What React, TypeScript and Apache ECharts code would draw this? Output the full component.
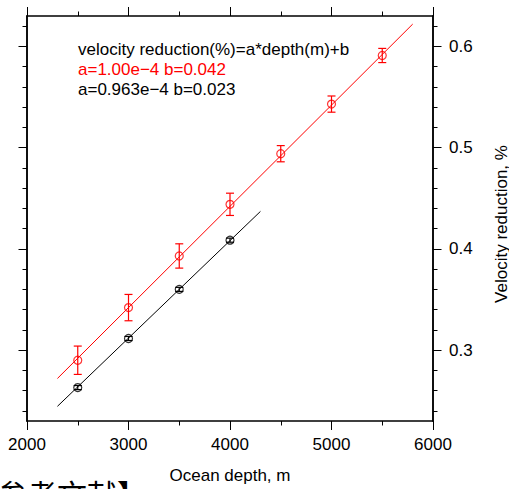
import React, { useEffect, useRef } from "react";
import * as echarts from "echarts";

const depths = [2500, 3000, 3500, 4000, 4500, 5000, 5500];
const redValues = [0.29, 0.342, 0.393, 0.444, 0.494, 0.543, 0.591];
const redErrors = [0.014, 0.013, 0.012, 0.011, 0.008, 0.008, 0.007];

const blackDepths = [2500, 3000, 3500, 4000];
const blackValues = [0.263, 0.3115, 0.36, 0.4086];
const blackErrors = [0.002, 0.002, 0.002, 0.002];

const redFitX = [2300, 5800];
const redFitY = [0.272, 0.622];
const blackFitX = [2300, 4300];
const blackFitY = [0.2445, 0.437];

const yMajorTicks = [0.3, 0.4, 0.5, 0.6];
const yMinorTicks = [0.24, 0.26, 0.28, 0.32, 0.34, 0.36, 0.38, 0.42, 0.44, 0.46, 0.48, 0.52, 0.54, 0.56, 0.58, 0.62];

const legendLines = [
  "velocity reduction(%)=a*depth(m)+b",
  "a=1.00e\u22124 b=0.042",
  "a=0.963e\u22124 b=0.023",
];

const FONT = "Liberation Sans, Arial, Helvetica, sans-serif";
const RED = "#ff0000";

export default function App() {
  const ref = useRef<HTMLDivElement>(null);
  useEffect(() => {
    if (!ref.current) return;
    const chart = echarts.init(ref.current, undefined, { renderer: "svg" });

    const errBar = (color: string) => (params: any, api: any) => {
      const x = api.value(0);
      const lo = api.coord([x, api.value(1)]);
      const hi = api.coord([x, api.value(2)]);
      const w = 4;
      const style = { stroke: color, lineWidth: 1.2 };
      return {
        type: "group",
        children: [
          { type: "line", shape: { x1: lo[0], y1: lo[1], x2: hi[0], y2: hi[1] }, style },
          { type: "line", shape: { x1: lo[0] - w, y1: lo[1], x2: lo[0] + w, y2: lo[1] }, style },
          { type: "line", shape: { x1: hi[0] - w, y1: hi[1], x2: hi[0] + w, y2: hi[1] }, style },
        ],
      };
    };

    const axisLine = { show: true, onZero: false, lineStyle: { color: "#000", width: 1.5 } };
    const xBase = {
      type: "value",
      min: 2000,
      max: 6000,
      interval: 1000,
      axisLine,
      axisTick: { show: true, inside: false, length: 9, lineStyle: { color: "#000", width: 1 } },
      minorTick: { show: true, splitNumber: 2, length: 4.5, lineStyle: { color: "#000", width: 1 } },
      splitLine: { show: false },
      minorSplitLine: { show: false },
    };
    const yBase = (position: string, ticks: number[], len: number, labels: boolean) => ({
      type: "value",
      position,
      min: 0.23,
      max: 0.63,
      axisLine,
      axisTick: { show: true, inside: false, length: len, customValues: ticks, lineStyle: { color: "#000", width: 1 } },
      axisLabel: labels
        ? { show: true, customValues: yMajorTicks, color: "#000", fontSize: 17, fontFamily: FONT, margin: 16, formatter: (v: number) => v.toFixed(1) }
        : { show: false },
      splitLine: { show: false },
    });

    chart.setOption({
      animation: false,
      backgroundColor: "#fff",
      grid: { left: 27, right: 76, top: 16, bottom: 66, containLabel: false },
      xAxis: [
        {
          ...xBase,
          position: "bottom",
          axisLabel: { show: true, color: "#000", fontSize: 17, fontFamily: FONT, margin: 15, formatter: (v: number) => String(v) },
          name: "Ocean depth, m",
          nameLocation: "middle",
          nameGap: 46,
          nameTextStyle: { color: "#000", fontSize: 17, fontFamily: FONT },
        },
        { ...xBase, position: "top", axisLabel: { show: false } },
      ],
      yAxis: [
        yBase("right", yMajorTicks, 8.5, true),
        yBase("right", yMinorTicks, 4.5, false),
        yBase("left", yMajorTicks, 8.5, false),
        yBase("left", yMinorTicks, 4.5, false),
      ],
      graphic: [
        ...legendLines.map((t, i) => ({
          type: "text",
          x: 78,
          y: 49 + i * 20,
          style: { text: t, fill: i === 1 ? RED : "#000", font: `17px ${FONT}`, align: "left", verticalAlign: "middle" },
        })),
        {
          type: "text",
          x: 501,
          y: 224,
          rotation: Math.PI / 2,
          style: { text: "Velocity reduction, %", fill: "#000", font: `17px ${FONT}`, align: "center", verticalAlign: "middle" },
        },
        {
          type: "text",
          x: -33,
          y: 478,
          style: { text: "【参考文献】", fill: "#000", font: `30px "Noto Sans CJK SC", serif`, align: "left", verticalAlign: "top" },
        },
      ],
      series: [
        {
          type: "line",
          data: redFitX.map((x, i) => [x, redFitY[i]]),
          symbol: "none",
          lineStyle: { color: RED, width: 1 },
          itemStyle: { color: RED },
          silent: true,
        },
        {
          type: "line",
          data: blackFitX.map((x, i) => [x, blackFitY[i]]),
          symbol: "none",
          lineStyle: { color: "#000", width: 1 },
          itemStyle: { color: "#000" },
          silent: true,
        },
        {
          type: "custom",
          renderItem: errBar(RED),
          data: depths.map((d, i) => [d, redValues[i] - redErrors[i], redValues[i] + redErrors[i]]),
          silent: true,
        },
        {
          type: "custom",
          renderItem: errBar("#000"),
          data: blackDepths.map((d, i) => [d, blackValues[i] - blackErrors[i], blackValues[i] + blackErrors[i]]),
          silent: true,
        },
        {
          type: "scatter",
          symbol: "circle",
          symbolSize: 8,
          data: depths.map((d, i) => [d, redValues[i]]),
          itemStyle: { color: "rgba(0,0,0,0)", borderColor: RED, borderWidth: 1.2 },
          silent: true,
        },
        {
          type: "scatter",
          symbol: "circle",
          symbolSize: 8,
          data: blackDepths.map((d, i) => [d, blackValues[i]]),
          itemStyle: { color: "rgba(0,0,0,0)", borderColor: "#000", borderWidth: 1.2 },
          silent: true,
        },
      ],
    });
    return () => chart.dispose();
  }, []);

  return (
    <div
      ref={ref}
      style={{ position: "fixed", left: 0, top: 0, width: 509, height: 489, background: "#fff" }}
    />
  );
}
